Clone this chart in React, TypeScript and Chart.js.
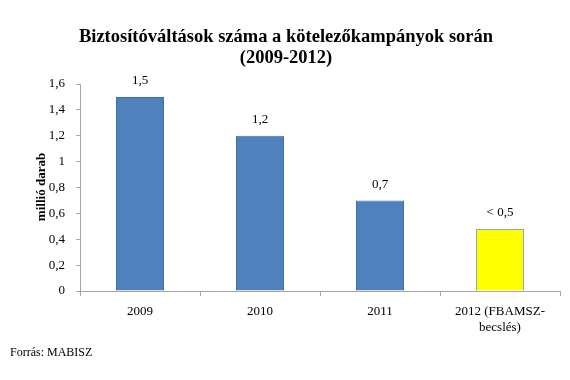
import React, { useEffect, useRef } from "react";
import { Chart, registerables } from "chart.js";

Chart.register(...registerables);

const categories: (string | string[])[] = ["2009", "2010", "2011", ["2012 (FBAMSZ-", "becslés)"]];
const values = [1.5, 1.2, 0.7, 0.48];
const valueLabels = ["1,5", "1,2", "0,7", "< 0,5"];
const barColors = ["#4F81BD", "#4F81BD", "#4F81BD", "#FFFF00"];
const barBorders = ["#3F6FA8", "#3F6FA8", "#3F6FA8", "#8EA4C8"];
const titleLines = ["Biztosítóváltások száma a kötelezőkampányok során", "(2009-2012)"];
const yAxisTitle = "millió darab";
const sourceText = "Forrás: MABISZ";

const SERIF = "'Times New Roman', 'Liberation Serif', serif";

const textPlugin = {
  id: "customText",
  afterDraw(chart: any) {
    const ctx = chart.ctx;
    ctx.save();
    ctx.fillStyle = "#000";
    ctx.textAlign = "center";
    ctx.textBaseline = "middle";
    ctx.font = `bold 18.5px ${SERIF}`;
    ctx.fillText(titleLines[0], 286, 37);
    ctx.fillText(titleLines[1], 286, 58);

    // y axis title
    ctx.save();
    ctx.translate(42, 187);
    ctx.rotate(-Math.PI / 2);
    ctx.font = `bold 13px ${SERIF}`;
    ctx.fillText(yAxisTitle, 0, 0);
    ctx.restore();

    // source
    ctx.textAlign = "left";
    ctx.font = `12px ${SERIF}`;
    ctx.fillText(sourceText, 10, 353);

    // value labels
    ctx.textAlign = "center";
    ctx.font = `13px ${SERIF}`;
    const meta = chart.getDatasetMeta(0);
    meta.data.forEach((bar: any, i: number) => {
      ctx.fillText(valueLabels[i], bar.x, bar.y - 16);
    });
    ctx.restore();
  },
};

export default function App() {
  const ref = useRef<HTMLCanvasElement>(null);
  useEffect(() => {
    document.body.style.margin = "0";
    const chart = new Chart(ref.current!, {
      type: "bar",
      data: {
        labels: categories,
        datasets: [
          {
            data: values,
            backgroundColor: barColors,
            borderColor: barBorders,
            borderWidth: 1,
            barPercentage: 0.4,
            categoryPercentage: 1,
          },
        ],
      },
      options: {
        responsive: false,
        animation: false,
        layout: { padding: { top: 84, left: 0, right: 10, bottom: 0 } },
        plugins: { legend: { display: false }, tooltip: { enabled: false }, title: { display: false } },
        scales: {
          x: {
            offset: true,
            grid: {
              offset: true,
              drawOnChartArea: false,
              drawTicks: true,
              tickLength: 5,
              color: "#A6A6A6",
            },
            border: { color: "#A6A6A6" },
            ticks: {
              color: "#000",
              font: { family: SERIF, size: 13 },
              padding: 8,
              maxRotation: 0,
              autoSkip: false,
            },
            afterFit(scale: any) {
              scale.height = 89;
            },
          },
          y: {
            min: 0,
            max: 1.6,
            grid: {
              drawOnChartArea: false,
              drawTicks: true,
              tickLength: 4,
              color: "#A6A6A6",
            },
            border: { color: "#A6A6A6" },
            ticks: {
              stepSize: 0.2,
              color: "#000",
              font: { family: SERIF, size: 13 },
              padding: 11,
              callback: (v: any) => {
                const n = Math.round(Number(v) * 10) / 10;
                return String(n).replace(".", ",");
              },
            },
            afterFit(scale: any) {
              scale.width = 80;
            },
          },
        },
      },
      plugins: [textPlugin],
    });
    return () => chart.destroy();
  }, []);
  return (
    <div style={{ position: "absolute", left: 0, top: 0, width: 570, height: 380, background: "#fff" }}>
      <canvas ref={ref} width={570} height={380} />
    </div>
  );
}
